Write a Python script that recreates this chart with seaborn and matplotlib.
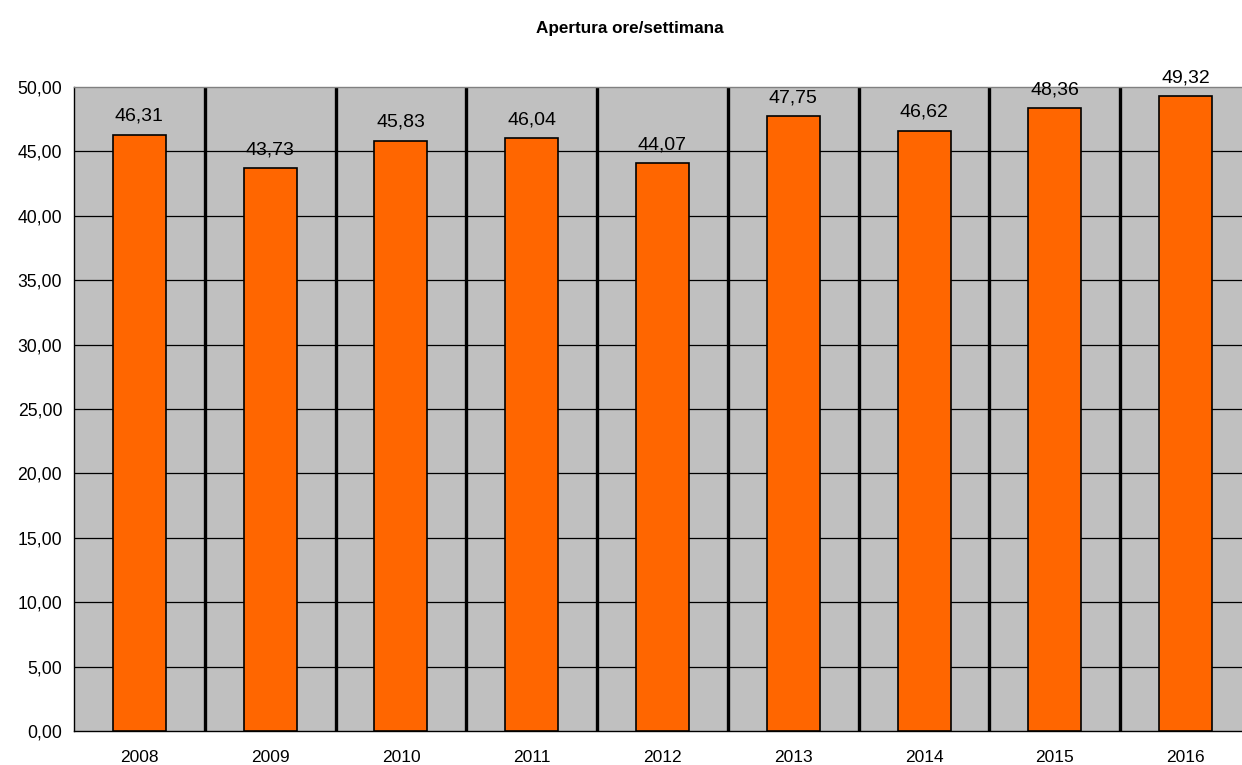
import matplotlib
matplotlib.use("Agg")
import matplotlib.pyplot as plt
import seaborn as sns
import pandas as pd
from matplotlib.ticker import FixedLocator, FuncFormatter

years = ["2008", "2009", "2010", "2011", "2012", "2013", "2014", "2015", "2016"]
values = [46.31, 43.73, 45.83, 46.04, 44.07, 47.75, 46.62, 48.36, 49.32]
title = "Apertura ore/settimana"

sns.set_theme(style="white")
plt.rcParams['font.family'] = ['Liberation Sans', 'DejaVu Sans']

df = pd.DataFrame({"anno": years, "ore": values})

fig = plt.figure(figsize=(12.42, 7.65), dpi=100)
ax = fig.add_axes([74/1242, 34/765, 1177/1242, 644/765])
ax.set_facecolor("#c0c0c0")

sns.barplot(data=df, x="anno", y="ore", color="#ff6600", edgecolor="black",
            linewidth=1.2, width=0.405, saturation=1, ax=ax, zorder=3)

ax.set_ylim(0, 50)
ax.set_xlim(-0.5, len(years) - 0.5)
ax.set_yticks([i * 5 for i in range(11)])
ax.yaxis.set_major_formatter(FuncFormatter(lambda v, p: f"{v:.2f}".replace(".", ",")))
for y in range(5, 50, 5):
    ax.axhline(y, color="black", lw=0.9, zorder=1)
for i in range(len(years) - 1):
    ax.axvline(i + 0.5, color="black", lw=2.4, zorder=2)

ax.xaxis.set_minor_locator(FixedLocator([i - 0.5 for i in range(len(years) + 1)]))
ax.tick_params(axis="x", which="major", length=0, labelsize=12.5, pad=14, colors="black")
ax.tick_params(axis="x", which="minor", length=6, width=1, color="black", direction="out")
ax.tick_params(axis="y", length=6, width=1, color="black", direction="out",
               labelsize=12.7, pad=2.5, labelcolor="black")
ax.set_xlabel("")
ax.set_ylabel("")

for s in ["left", "bottom"]:
    ax.spines[s].set_color("black")
    ax.spines[s].set_linewidth(1)
ax.spines["top"].set_color("#808080")
ax.spines["top"].set_linewidth(1)
ax.spines["right"].set_visible(False)

for i, v in enumerate(values):
    ax.annotate(f"{v:.2f}".replace(".", ","), (i, v), xytext=(0, 7),
                textcoords="offset points", ha="center", va="bottom",
                fontsize=14, color="black", zorder=5, annotation_clip=False)

fig.text(630/1242, 1 - 28/765, title, ha="center", va="center", fontsize=12.3,
         fontweight="bold", color="black")

fig.savefig("out.png", dpi=100)
